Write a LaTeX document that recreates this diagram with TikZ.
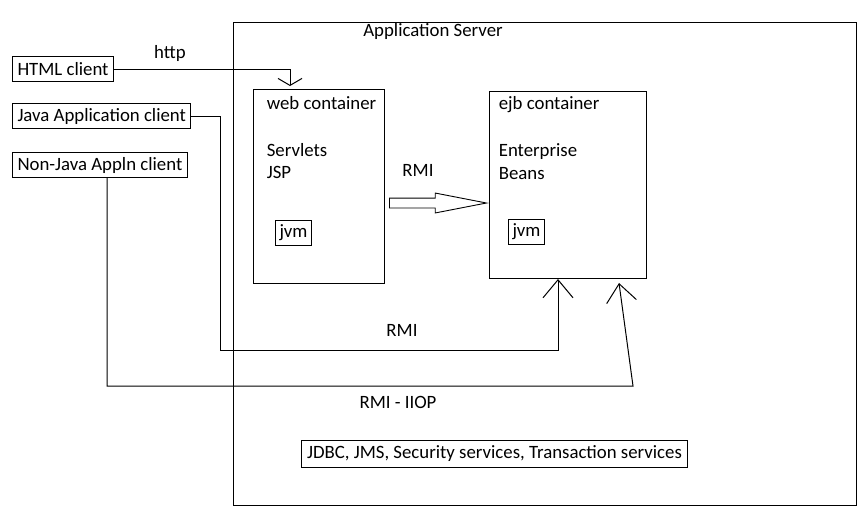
\documentclass[tikz,border=0pt]{standalone}
\usepackage{fontspec}
\setmainfont{Carlito}
\usetikzlibrary{positioning, arrows.meta, shapes.arrows}

\tikzset{
  client/.style={draw, anchor=west, inner xsep=5pt, minimum height=25pt},
  container/.style={draw, anchor=north west},
  jvmbox/.style={draw, inner xsep=4pt, minimum height=25pt},
  barb/.style={-{Straight Barb[length=18pt, width=30pt]}},
}

\begin{document}
\begin{tikzpicture}[x=1pt, y=-1pt, line width=1pt, font=\fontsize{18.8}{22}\selectfont]
    \useasboundingbox (0,0) rectangle (864,515);

    % application server
    \node[draw, anchor=north west, minimum width=623pt, minimum height=483pt] (server) at (233,22) {};
    \node (servertitle) at (433,31) {Application Server};

    % clients
    \node[client] (html) at (12,69) {HTML client};
    \node[client] (javaapp) at (12,116) {Java Application client};
    \node[client] (nonjava) at (12,165) {Non-Java Appln client};
    \node (http) at (170,53) {http};

    % web container
    \node[container, minimum width=131pt, minimum height=194pt] (web) at (253,89) {};
    \node[anchor=west] (webtitle) at (263,103) {web container};
    \node[anchor=west] (servlets) at (263,150) {Servlets};
    \node[anchor=west] (jsp) at (263,172) {JSP};
    \node[jvmbox] (webjvm) at (293.5,233) {jvm};

    % ejb container
    \node[container, minimum width=157pt, minimum height=187pt] (ejb) at (489,91) {};
    \node[anchor=west] (ejbtitle) at (495,105) {ejb container};
    \node[anchor=west] (enterprise) at (495,152) {Enterprise};
    \node[anchor=west] (beans) at (495,174) {Beans};
    \node[jvmbox] (ejbjvm) at (526.5,232) {jvm};

    % web to ejb
    \node (rmitop) at (418,170) {RMI};
    \node[single arrow, draw, line width=0.9pt, anchor=west, inner xsep=0pt, inner ysep=4.5pt,
          minimum height=97pt, single arrow head extend=5pt, single arrow tip angle=22] (rmiarrow) at (389,203) {};

    % labels of the client lines
    \node (rmimid) at (402,330) {RMI};
    \node (rmiiiop) at (398,402) {RMI - IIOP};

    % services
    \node[draw, inner xsep=6pt, minimum height=27pt] (services) at (494.5,453.5) {JDBC, JMS, Security services, Transaction services};

    % client connectors
    \coordinate (javabend) at (220,350);
    \coordinate (iiopbend) at (107,386);
    \coordinate (iiopcorner) at (633,386);

    \draw[-{Straight Barb[length=7pt, width=24pt]}] (html.east) -| ([xshift=37pt, yshift=3pt]web.north west);
    \draw[barb] (javaapp.east) -| (javabend) -| ([xshift=69pt]ejb.south west);
    \draw[barb] (nonjava.south -| iiopbend) -- (iiopbend) -- (iiopcorner) -- ([xshift=130pt, yshift=-4pt]ejb.south west);
\end{tikzpicture}
\end{document}
